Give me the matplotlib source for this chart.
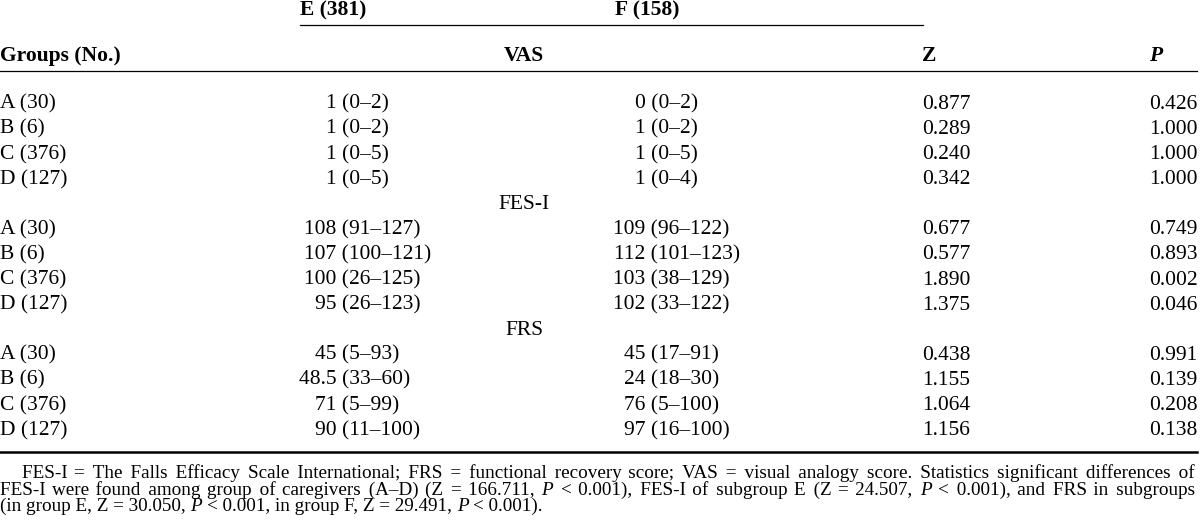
import matplotlib.pyplot as plt

plt.rcParams['font.family'] = ['Liberation Serif', 'DejaVu Serif']

col_e_title = 'E (381)'
col_f_title = 'F (158)'
groups = ['A (30)', 'B (6)', 'C (376)', 'D (127)']

vas_e = ['1 (0–2)', '1 (0–2)', '1 (0–5)', '1 (0–5)']
vas_f = ['0 (0–2)', '1 (0–2)', '1 (0–5)', '1 (0–4)']
vas_z = ['0.877', '0.289', '0.240', '0.342']
vas_p = ['0.426', '1.000', '1.000', '1.000']

fes_e = ['108 (91–127)', '107 (100–121)', '100 (26–125)', '95 (26–123)']
fes_f = ['109 (96–122)', '112 (101–123)', '103 (38–129)', '102 (33–122)']
fes_z = ['0.677', '0.577', '1.890', '1.375']
fes_p = ['0.749', '0.893', '0.002', '0.046']

frs_e = ['45 (5–93)', '48.5 (33–60)', '71 (5–99)', '90 (11–100)']
frs_f = ['45 (17–91)', '24 (18–30)', '76 (5–100)', '97 (16–100)']
frs_z = ['0.438', '1.155', '1.064', '1.156']
frs_p = ['0.991', '0.139', '0.208', '0.138']

# *P* = cursiva
nota = [
    'FES-I = The Falls Efficacy Scale International; FRS = functional recovery score; '
    'VAS = visual analogy score. Statistics significant differences of',
    'FES-I were found among group of caregivers (A–D) (Z = 166.711, *P* < 0.001), '
    'FES-I of subgroup E (Z = 24.507, *P* < 0.001), and FRS in subgroups',
    '(in group E, Z = 30.050, *P* < 0.001, in group F, Z = 29.491, *P* < 0.001).',
]

W, H = 1200, 530
fig = plt.figure(figsize=(12, 5.3), dpi=100)
ax = fig.add_axes([0, 0, 1, 1])
ax.set_xlim(0, W)
ax.set_ylim(H, 0)
ax.axis('off')
renderer = fig.canvas.get_renderer()

fs = 15.5
fs_nota = 13.8
cap = 13.6                       # altura de mayúsculas en px
x_paren_e, x_paren_f = 342, 651
x_z, x_p = 922, 1149
y0, paso = 102, 25.1
x_der = 1196


def ancho(s, **kw):
    t = ax.text(0, 0, s, **kw)
    w = t.get_window_extent(renderer).width
    t.remove()
    return w


def celda(x, y, s, **kw):
    ax.text(x, y + cap / 2, s, fontsize=fs, va='baseline', **kw)


def mediana_rango(xp, y, s):
    med = s.split(' ', 1)[0]
    desp = ancho(med + ' (', fontsize=fs) - ancho('(', fontsize=fs)
    celda(xp - desp, y, s, ha='left')


# cabecera
celda(300, 9, col_e_title, ha='left', weight='bold')
celda(615, 9, col_f_title, ha='left', weight='bold')
celda(0, 54, 'Groups (No.)', ha='left', weight='bold')
celda(524, 54, 'VAS', ha='center', weight='bold')
celda(x_z, 54, 'Z', ha='left', weight='bold')
celda(x_p, 54, 'P', ha='left', weight='bold', style='italic')

ax.plot([300, 923], [25, 25], color='black', lw=0.9)
ax.plot([0, 1197], [71, 71], color='black', lw=0.9)

bloques = [
    (None, vas_e, vas_f, vas_z, vas_p),
    ('FES-I', fes_e, fes_f, fes_z, fes_p),
    ('FRS', frs_e, frs_f, frs_z, frs_p),
]
fila = 0
for titulo, ce, cf, cz, cp in bloques:
    if titulo:
        celda(524, y0 + fila * paso, titulo, ha='center')
        fila += 1
    for g, e, f, z, p in zip(groups, ce, cf, cz, cp):
        y = y0 + fila * paso
        celda(0, y, g, ha='left')
        mediana_rango(x_paren_e, y, e)
        mediana_rango(x_paren_f, y, f)
        celda(x_z, y, z, ha='left')
        celda(x_p, y, p, ha='left')
        fila += 1

ax.plot([0, 1197], [451.5, 451.5], color='black', lw=1.8)

# nota al pie, justificada con espacios finos (U+200A)
estilo = lambda it: 'italic' if it else 'normal'
sp = ancho('a a', fontsize=fs_nota) - ancho('aa', fontsize=fs_nota)
hw = (ancho('a' + '\u200a' * 20 + 'a', fontsize=fs_nota) - ancho('aa', fontsize=fs_nota)) / 20
for i, linea in enumerate(nota):
    yb = 478.5 + i * 16.2
    x0 = 22 if i == 0 else 0
    palabras = [(w.strip('*'), w.startswith('*')) for w in linea.split(' ')]
    n_huecos = len(palabras) - 1
    natural = sum(ancho(w, fontsize=fs_nota, style=estilo(it)) for w, it in palabras)
    natural += sp * n_huecos
    total = 0
    if i < len(nota) - 1:
        total = max(0, int((x_der - x0 - natural) / hw))
    extra = [(j + 1) * total // n_huecos - j * total // n_huecos for j in range(n_huecos)]
    # segmentos de palabras con el mismo estilo
    segs = []
    for j, (w, it) in enumerate(palabras):
        if segs and segs[-1][1] == it:
            segs[-1][0] += ' ' + '\u200a' * extra[j - 1] + w
        else:
            segs.append([w, it, j])
    x = x0
    for s, it, j in segs:
        if j > 0:
            x += sp + extra[j - 1] * hw
        ax.text(x, yb, s, fontsize=fs_nota, va='baseline', ha='left', style=estilo(it))
        x += ancho(s, fontsize=fs_nota, style=estilo(it))

fig.savefig('out.png', dpi=100)
